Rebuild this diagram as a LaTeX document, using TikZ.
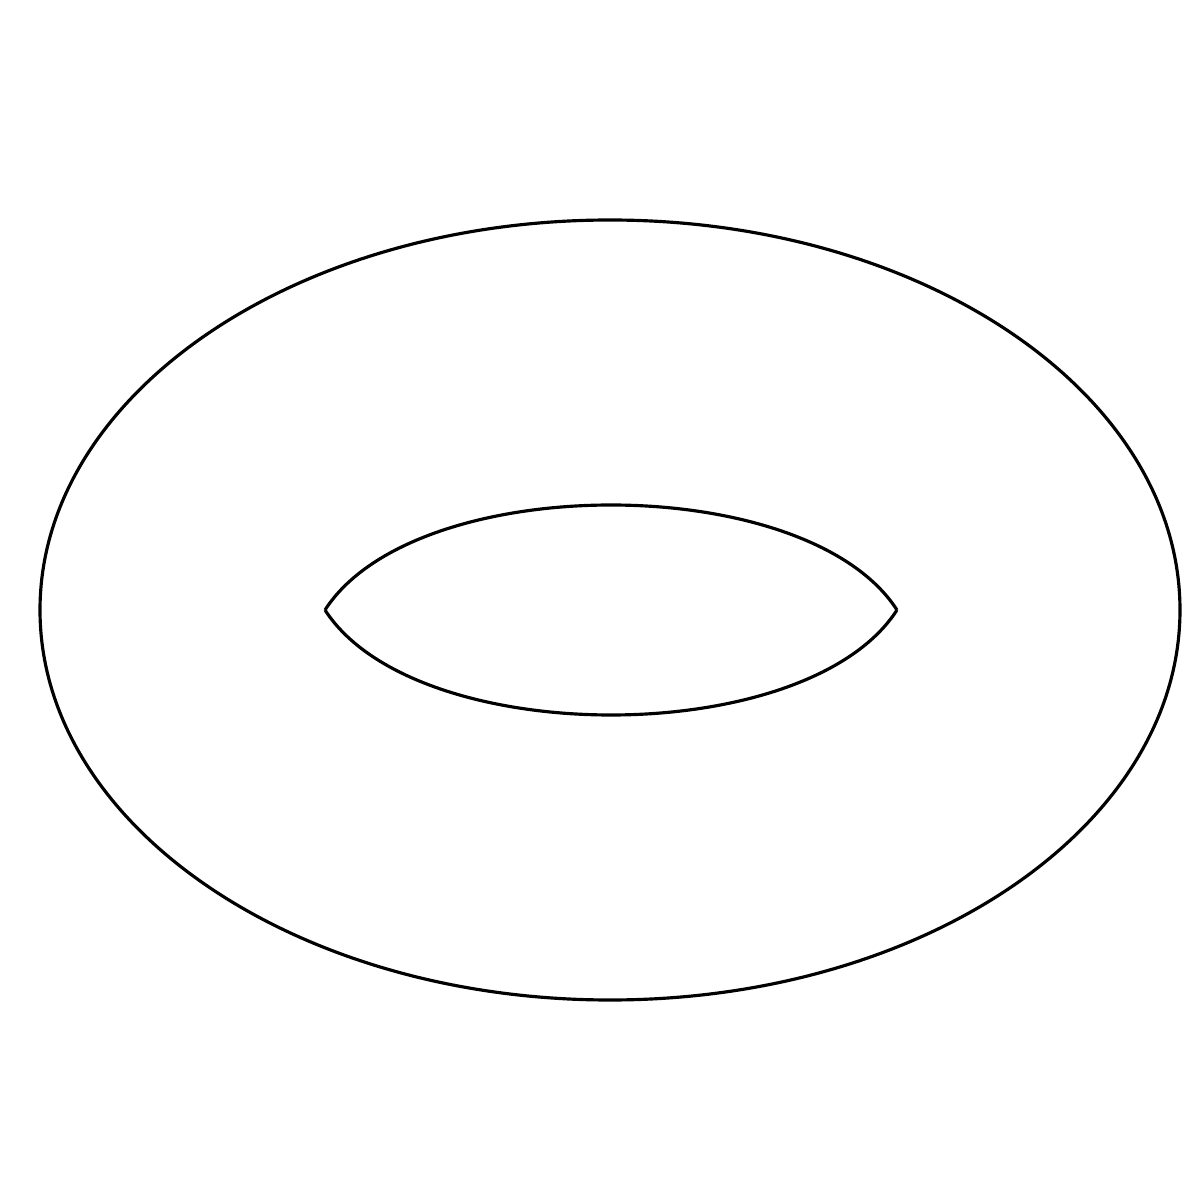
\documentclass[tikz,border=0pt]{standalone}
\begin{document}
\begin{tikzpicture}
          \tikzstyle{every path}=[line width=0.9pt,line join=round];
          \useasboundingbox (0,0) rectangle (12,12);
          %outer rim
          \draw (6.10,5.90) ellipse (5.70 and 3.90);
          %hole
          \coordinate (left) at (3.25,5.90);
          \coordinate (right) at (8.97,5.90);
          \draw (left) .. controls (4.15,7.30) and (8.07,7.30) .. (right);
          \draw (left) .. controls (4.15,4.50) and (8.07,4.50) .. (right);
      \end{tikzpicture}
\end{document}
